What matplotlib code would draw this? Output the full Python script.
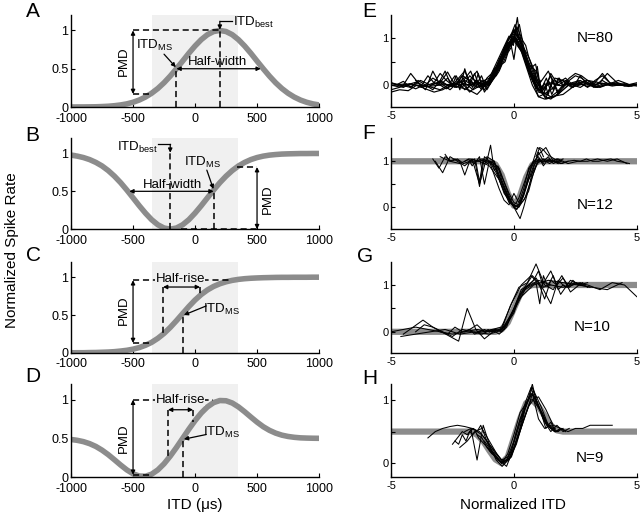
import numpy as np
import matplotlib
matplotlib.use("Agg")
import matplotlib.pyplot as plt

plt.rcParams["font.family"] = ["Liberation Sans", "DejaVu Sans"]
plt.rcParams["mathtext.fontset"] = "custom"
plt.rcParams["mathtext.rm"] = "Liberation Sans"
plt.rcParams["mathtext.it"] = "Liberation Sans:italic"

# ---- left column: model tuning curves, sampled every 50 us ----
itd = list(range(-1000, 1001, 50))
curve_a = [0.000, 0.001, 0.001, 0.002, 0.003, 0.006, 0.010, 0.017, 0.027, 0.041,
           0.062, 0.091, 0.130, 0.180, 0.242, 0.317, 0.404, 0.500, 0.600, 0.702,
           0.797, 0.880, 0.945, 0.986, 1.000, 0.986, 0.945, 0.880, 0.797, 0.702,
           0.600, 0.500, 0.404, 0.317, 0.242, 0.180, 0.130, 0.091, 0.062, 0.041,
           0.027]
curve_b = [0.978, 0.965, 0.946, 0.919, 0.882, 0.835, 0.774, 0.700, 0.614, 0.517,
           0.414, 0.310, 0.212, 0.125, 0.058, 0.015, 0.000, 0.015, 0.058, 0.125,
           0.212, 0.310, 0.414, 0.517, 0.614, 0.700, 0.774, 0.835, 0.882, 0.919,
           0.946, 0.965, 0.978, 0.986, 0.992, 0.995, 0.997, 0.999, 0.999, 1.000,
           1.000]
curve_c = [0.001, 0.002, 0.002, 0.004, 0.005, 0.008, 0.011, 0.016, 0.024, 0.034,
           0.049, 0.070, 0.100, 0.139, 0.192, 0.257, 0.336, 0.425, 0.519, 0.612,
           0.698, 0.771, 0.831, 0.878, 0.913, 0.939, 0.958, 0.971, 0.980, 0.986,
           0.990, 0.993, 0.995, 0.997, 0.998, 0.998, 0.999, 0.999, 0.999, 1.000,
           1.000]
curve_d = [0.486, 0.475, 0.458, 0.432, 0.396, 0.348, 0.290, 0.224, 0.156, 0.093,
           0.043, 0.014, 0.011, 0.038, 0.093, 0.172, 0.271, 0.382, 0.500, 0.618,
           0.729, 0.828, 0.907, 0.962, 0.989, 0.986, 0.957, 0.907, 0.844, 0.776,
           0.710, 0.651, 0.604, 0.568, 0.542, 0.525, 0.514, 0.507, 0.504, 0.502,
           0.501]

# ---- right column: templates every 0.25 normalized ITD ----
norm_itd = list(np.arange(-5, 5.001, 0.25))
template_f = [1.0] * 16 + [1.0, 0.93, 0.7, 0.3, 0.03, 0.25, 0.65, 0.92, 1.0] + [1.0] * 16
template_g = [0.0] * 18 + [0.05, 0.2, 0.5, 0.8, 0.95, 1.0] + [1.0] * 17
template_h = ([0.5] * 13 + [0.5, 0.45, 0.35, 0.2, 0.06, 0.0, 0.1, 0.4, 0.7, 0.95,
                            1.0, 0.9, 0.75, 0.6, 0.52] + [0.5] * 13)

# normalized responses of single neurons: (first ITD, ITD step, rates)
traces_e = [
    (-5, 0.25, [0.05, 0.0, -0.05, 0.02, 0.06, 0.0, -0.04, 0.03, 0.08, 0.0, -0.03, 0.05, 0.1, 0.02, -0.05, 0.04,
                0.05, 0.25, 0.55, 0.85, 1.05, 0.85, 0.45, 0.1, -0.1,
                -0.05, 0.05, 0.0, -0.02, 0.03, 0.0, 0.02, -0.03, 0.0, 0.04, 0.01, -0.02, 0.0, 0.03, 0.0, 0.02]),
    (-4.8, 0.3, [0.0, 0.08, -0.05, 0.1, 0.0, 0.15, 0.05, 0.28, 0.0, 0.2, 0.1, -0.05,
                 0.0, 0.2, 0.5, 0.8, 1.1, 0.75, 0.3, -0.05, -0.2,
                 -0.1, 0.05, 0.15, 0.0, -0.05, 0.05, 0.0, 0.1, 0.0, 0.05, -0.02, 0.0]),
    (-3, 0.2, [0.1, 0.3, 0.05, 0.2, -0.1, 0.35, 0.0, 0.25, -0.05, 0.1,
               0.0, 0.15, 0.35, 0.6, 0.85, 1.2, 1.0, 0.7, 0.35, 0.05, -0.25,
               -0.2, 0.1, -0.1, 0.15, 0.0, 0.05, -0.05, 0.1, 0.0, 0.05]),
    (-5, 0.5, [0.0, 0.02, 0.0, -0.03, 0.0, 0.02, 0.0, 0.05, 0.02, 0.5, 1.0, 0.55, -0.1, -0.25, -0.2,
               0.0, 0.1, 0.05, 0.0, 0.0, 0.02]),
    (-2.5, 0.15, [0.0, 0.2, 0.05, 0.15, -0.1, 0.1, 0.0, 0.25, -0.05, 0.05,
                  0.05, 0.2, 0.35, 0.55, 0.7, 0.95, 1.1, 1.3, 1.0, 0.8,
                  0.5, 0.3, 0.05, 0.4, -0.15, 0.05, -0.2, 0.1, 0.0, 0.15, -0.05, 0.1, 0.0, 0.05]),
    (-4, 0.25, [0.1, 0.0, 0.2, 0.05, 0.25, 0.1, 0.0, 0.15, 0.3, 0.0, 0.1, -0.05,
                0.1, 0.35, 0.65, 0.95, 1.15, 0.95, 0.55, 0.2, 0.0,
                -0.25, -0.3, -0.2, -0.05, 0.1, 0.2, 0.15, 0.05, -0.05, 0.0, 0.05, 0.0]),
    (-5, 1 / 3, [-0.1, -0.05, 0.0, -0.08, 0.0, -0.05, -0.1, 0.0, -0.05, 0.05, -0.1, 0.0,
                 0.1, 0.45, 0.8, 0.95, 0.7, 0.2, -0.15,
                 -0.2, 0.15, 0.1, -0.05, 0.0, 0.05, -0.05, 0.0, 0.02, 0.0, -0.03, 0.0]),
    (-1.5, 0.1, [0.0, 0.05, 0.1, 0.05, 0.15, 0.2, 0.25, 0.35, 0.4, 0.5,
                 0.55, 0.65, 0.75, 0.85, 0.95, 1.05, 1.0, 0.9, 0.8, 0.65,
                 0.5, 0.4, 0.25, 0.1, 0.0, -0.1, -0.15, -0.1, 0.0, 0.05, 0.0]),
    (-1.8, 0.12, [0.05, -0.05, 0.1, 0.0, -0.1, 0.05, 0.0, 0.1, 0.15, 0.2,
                  0.3, 0.45, 0.5, 0.7, 0.8, 1.0, 1.25, 1.1, 0.95, 0.85,
                  0.6, 0.45, 0.3, 0.1, -0.05, -0.2, -0.25, -0.1, 0.05, 0.1, 0.0]),
    (-5, 0.25, [0.0, -0.03, 0.0, 0.03, 0.0, -0.05, 0.0, 0.05, 0.0, -0.08, 0.0, 0.05, -0.1, 0.0, 0.05, 0.0,
                0.0, 0.3, 0.6, 0.9, 1.0, 0.8, 0.4, 0.0, -0.25,
                -0.3, -0.25, -0.15, 0.0, 0.15, 0.25, 0.2, 0.1, 0.0, -0.05, 0.0, 0.05, 0.1, 0.05, 0.0, -0.02]),
    (-3.6, 0.3, [0.0, -0.1, 0.1, 0.0, 0.05, -0.05, 0.2, 0.05, -0.1, 0.15,
                 0.45, 0.75, 1.0, 0.9, 0.6, 0.15, -0.1, 0.2, -0.15, 0.05,
                 0.0, 0.05, -0.05, 0.1, 0.2, 0.05, 0.0]),
    (-5, 0.4, [0.05, 0.0, -0.05, 0.1, 0.0, 0.05, -0.1, 0.1, -0.15, 0.05,
               0.15, 0.6, 1.05, 0.9, 0.4, 0.0, 0.3, -0.2, 0.0, 0.05,
               0.1, 0.0, 0.25, 0.05, 0.0, 0.05]),
    (-0.9, 0.08, [0.1, 0.15, 0.2, 0.3, 0.35, 0.45, 0.5, 0.6, 0.7, 0.8,
                  0.9, 0.85, 1.2, 1.45, 1.1, 0.95, 0.8, 0.6, 0.5, 0.35,
                  0.25, 0.15, 0.05, 0.0]),
    (-1.2, 0.15, [0.0, 0.05, 0.15, 0.3, 0.45, 0.6, 0.85, 0.95, 0.55, 1.1, 0.9, 0.6, 0.4, 0.15, 0.0, -0.1, 0.0]),
    (-4.5, 0.3, [0.0, 0.25, 0.05, -0.1, 0.3, 0.0, 0.15, -0.05, 0.2, 0.1,
                 0.3, -0.15, 0.1, 0.45, 0.9, 1.15, 0.9, 0.45, 0.3, -0.2,
                 0.25, 0.0, 0.1, -0.05, 0.2, 0.0, 0.05, 0.25, 0.05, 0.0, 0.0]),
    (-5, 0.35, [-0.15, -0.1, -0.12, 0.0, -0.08, -0.15, -0.1, 0.0, -0.05, -0.1, -0.2, 0.0,
                0.2, 0.55, 0.9, 1.0, 0.5, 0.05, -0.3, -0.25, -0.1,
                0.05, 0.1, 0.0, -0.05, 0.0, 0.05, 0.0, -0.02]),
    (-1.1, 0.1, [0.05, 0.1, 0.2, 0.3, 0.4, 0.55, 0.65, 0.8, 0.9, 1.0,
                 1.1, 1.15, 1.2, 1.05, 0.9, 0.75, 0.55, 0.4, 0.2, 0.05, -0.05, 0.0, 0.1]),
    (-2.2, 0.22, [-0.05, 0.15, 0.3, 0.0, 0.2, -0.1, 0.1, 0.35, 0.6, 0.85,
                  1.0, 1.3, 0.7, 0.35, 0.45, -0.1, 0.15, -0.2, 0.05, 0.1, 0.0]),
]
traces_f = [
    (-3.3, 0.25, [1.05, 0.85, 1.1, 1.0, 1.05, 0.95, 1.0, 1.0, 1.05, 1.0,
                  0.9, 0.6, 0.3, 0.05, 0.0, 0.2, 0.6, 0.95, 1.05, 1.0,
                  1.0, 0.95, 1.0, 1.02, 1.0, 1.05, 1.0, 1.0, 1.03, 1.05, 1.0, 0.98, 0.95]),
    (-3.2, 0.3, [1.0, 0.75, 1.1, 1.0, 0.9, 1.05, 0.5, 1.1, 1.0, 0.55,
                 0.15, -0.05, 0.3, 0.85, 1.15, 1.3, 1.0, 0.95, 1.0]),
    (-2.8, 0.2, [1.15, 1.0, 1.05, 1.0, 0.7, 1.0, 1.05, 0.45, 1.1, 1.0,
                 0.95, 0.8, 0.55, 0.3, 0.1, 0.05, 0.15, 0.35, 0.75, 1.05,
                 1.0, 1.1, 0.95, 1.0, 1.05]),
    (-2.0, 0.15, [1.0, 1.05, 0.9, 1.0, 0.55, 1.05, 1.0, 1.35, 0.8, 0.9,
                  0.6, 0.4, 0.2, 0.05, -0.1, -0.25, 0.0, 0.3, 0.65, 0.95,
                  1.2, 1.05, 1.0, 0.95, 1.0, 1.05, 1.0]),
    (-1.5, 0.1, [1.0, 1.0, 1.02, 1.0, 0.98, 1.0, 0.97, 0.95, 0.9, 0.85,
                 0.7, 0.55, 0.4, 0.25, 0.12, 0.05, 0.1, 0.2, 0.35, 0.5,
                 0.65, 0.8, 0.9, 0.98, 1.0, 1.02, 1.0, 0.98, 1.0, 1.02, 1.0]),
    (-1.2, 0.12, [1.0, 0.95, 1.0, 0.85, 0.75, 0.6, 0.45, 0.3, 0.2, 0.1,
                  0.0, -0.05, 0.05, 0.2, 0.45, 0.7, 0.9, 1.1, 1.3, 1.25, 1.1]),
    (-1.0, 0.2, [1.0, 0.7, 0.4, 0.15, 0.05, 0.3, 0.1, 0.4, 0.85, 1.0, 1.1, 0.9, 1.05, 1.0, 0.95]),
    (-3.0, 0.4, [1.1, 1.0, 0.95, 1.05, 1.0, 0.9, 0.6, 0.1, 0.0, 0.6,
                 1.0, 1.0, 1.05, 0.95, 1.0, 1.0, 1.05, 1.0, 1.05, 0.95]),
    (-1.8, 0.2, [1.0, 0.95, 1.1, 0.5, 1.0, 1.0, 0.6, 0.3, 0.15, 0.0, 0.05, 0.25, 0.6, 0.9, 1.05, 0.95]),
    (0.9, 0.15, [1.1, 1.3, 1.25, 1.15, 1.1, 1.05, 1.0, 1.0]),
]
traces_g = [
    (-5, 0.5, [0.0, 0.05, 0.1, 0.05, 0.0, -0.05, 0.0, 0.05, 0.0, 0.05, 0.45,
               0.95, 1.1, 1.0, 0.95, 1.05, 1.0, 0.9, 1.05, 1.0, 0.75]),
    (-4.5, 0.4, [-0.05, 0.1, 0.25, 0.1, 0.0, -0.1, 0.05, 0.0, -0.05, 0.05,
                 0.1, 0.6, 1.0, 1.2, 0.95, 1.3, 0.8, 1.1, 1.0, 0.95]),
    (-4.0, 0.35, [0.0, 0.15, 0.1, 0.0, -0.1, -0.2, 0.5, 0.05, -0.15, 0.0,
                  0.05, 0.55, 0.95, 1.05, 1.45, 1.0, 0.9, 1.2, 0.85, 1.0, 1.05]),
    (-3.0, 0.3, [0.0, -0.05, 0.1, 0.0, 0.05, 0.15, 0.0, 0.05, -0.05, 0.1,
                 0.5, 0.9, 1.0, 1.15, 0.9, 0.6, 1.1, 0.95, 1.0, 1.05, 0.95]),
    (-2.0, 0.2, [0.0, 0.05, -0.05, 0.0, 0.05, 0.0, 0.05, 0.02, 0.1, 0.3,
                 0.5, 0.75, 0.9, 1.0, 1.1, 1.3, 0.95, 1.0, 1.2, 0.9,
                 1.0, 0.95, 1.1, 1.0, 1.05]),
    (-1.5, 0.15, [0.0, 0.02, 0.0, 0.05, 0.0, 0.03, 0.05, 0.1, 0.15, 0.3,
                  0.45, 0.65, 0.8, 0.9, 0.95, 1.0, 1.05, 0.6, 1.2, 1.0, 1.0]),
    (-4.6, 0.6, [-0.1, -0.05, 0.0, 0.05, -0.05, 0.0, -0.05, 0.05, 0.7, 1.0, 1.1, 1.05, 1.0, 0.95, 0.9, 1.05]),
    (-1.0, 0.25, [0.0, 0.05, 0.0, 0.2, 0.4, 0.8, 1.0, 1.2, 1.05, 0.7, 1.1, 1.0, 1.15, 0.95, 1.05, 1.0]),
]
traces_h = [
    (-3.5, 0.3, [0.4, 0.5, 0.55, 0.58, 0.6, 0.58, 0.55, 0.5, 0.35, 0.2,
                 0.05, 0.05, 0.3, 0.7, 1.0, 1.05, 0.85, 0.6, 0.55, 0.5,
                 0.55, 0.55, 0.6, 0.6, 0.6, 0.6]),
    (-2.5, 0.2, [0.3, 0.4, 0.5, 0.45, 0.55, 0.5, 0.45, 0.35, 0.2, 0.1,
                 0.0, 0.05, 0.2, 0.45, 0.7, 0.95, 1.1, 1.0, 0.8, 0.65,
                 0.55, 0.5, 0.55, 0.5]),
    (-2.4, 0.15, [0.35, 0.3, 0.45, 0.35, 0.5, 0.55, 0.5, 0.6, 0.45, 0.3,
                  0.2, 0.1, 0.05, 0.0, -0.05, 0.1, 0.25, 0.4, 0.6, 0.85,
                  1.05, 1.25, 1.0, 0.85, 0.7, 0.6, 0.55, 0.5, 0.5, 0.55]),
    (-2.0, 0.25, [0.5, 0.55, 0.05, 0.6, 0.3, 0.15, 0.05, 0.1,
                  0.35, 0.7, 0.9, 1.2, 0.9, 0.65, 0.5, 0.6, 0.5, 0.55]),
    (-1.8, 0.12, [0.5, 0.45, 0.5, 0.4, 0.35, 0.3, 0.25, 0.2, 0.15, 0.05,
                  0.0, -0.05, 0.0, 0.05, 0.15, 0.25, 0.4, 0.55, 0.75, 0.9,
                  1.0, 1.1, 1.05, 0.95, 0.85, 0.75, 0.65, 0.6, 0.55, 0.5]),
    (-1.5, 0.2, [0.45, 0.4, 0.25, 0.15, 0.1, 0.0, 0.05, 0.2, 0.5, 0.75,
                 1.0, 1.2, 0.95, 0.8, 0.55, 0.65, 0.5, 0.55]),
    (-2.2, 0.3, [0.25, 0.35, 0.5, 0.55, 0.35, 0.15, 0.0, 0.1, 0.45, 0.8, 1.15, 0.9, 0.6]),
    (-1.2, 0.18, [0.35, 0.25, 0.15, 0.05, 0.02, 0.05, 0.1, 0.3, 0.5, 0.7, 0.9, 1.0, 0.9, 0.8, 0.65, 0.55, 0.55]),
    (-1.0, 0.25, [0.2, 0.1, 0.0, 0.15, 0.45, 0.8, 0.95, 1.1, 0.7, 0.55, 0.6, 0.5, 0.55]),
]

GRAY = "#8c8c8c"
SHADE = "#f0f0f0"

fig = plt.figure(figsize=(6.4, 5.22), dpi=100)

rows = [(0.795, 0.176), (0.561, 0.174), (0.324, 0.174), (0.086, 0.178)]
left_axes = [fig.add_axes([0.111, b, 0.3875, h]) for b, h in rows]
right_axes = [fig.add_axes([0.611, b, 0.384, h]) for b, h in rows]


def style(ax, size, xpad):
    for s in ["top", "right"]:
        ax.spines[s].set_visible(False)
    ax.spines["left"].set_linewidth(1.0)
    ax.spines["bottom"].set_linewidth(1.0)
    ax.tick_params(direction="in", length=3, width=0.8, labelsize=size, pad=2)
    ax.tick_params(axis="x", pad=xpad)


def dash(ax, xs, ys):
    ax.plot(xs, ys, color="k", lw=1.1, ls=(0, (4, 2.5)), zorder=3)


def arrow2(ax, p1, p2):
    ax.annotate("", xy=p2, xytext=p1,
                arrowprops=dict(arrowstyle="<|-|>", color="k", lw=0.9,
                                mutation_scale=6, shrinkA=0, shrinkB=0), zorder=4)


def arrow1(ax, p1, p2):
    ax.annotate("", xy=p2, xytext=p1,
                arrowprops=dict(arrowstyle="-|>", color="k", lw=0.9,
                                mutation_scale=6, shrinkA=0, shrinkB=0), zorder=4)


curves = [curve_a, curve_b, curve_c, curve_d]
for ax, c in zip(left_axes, curves):
    ax.axvspan(-345, 345, color=SHADE, zorder=0, lw=0)
    ax.plot(itd, c, color=GRAY, lw=4, zorder=2)
    ax.set_xlim(-1000, 1000)
    ax.set_ylim(0, 1.2)
    ax.set_xticks([-1000, -500, 0, 500, 1000])
    ax.set_xticklabels(["-1000", "-500", "0", "500", "1000"])
    ax.set_yticks([0, 0.5, 1])
    ax.set_yticklabels(["0", "0.5", "1"])
    style(ax, 9, 4)

fs = 9.5
ITD_MS = r"ITD$_{\mathrm{MS}}$"
ITD_BEST = r"ITD$_{\mathrm{best}}$"

# A
ax = left_axes[0]
dash(ax, [-500, 200], [1.0, 1.0])
dash(ax, [-500, -370], [0.17, 0.17])
arrow2(ax, (-500, 0.17), (-500, 1.0))
ax.text(-575, 0.6, "PMD", rotation=90, ha="center", va="center", fontsize=fs)
dash(ax, [-150, -150], [0, 0.5])
dash(ax, [200, 200], [0, 1.0])
ax.plot([300, 200], [1.12, 1.12], color="k", lw=0.9)
arrow1(ax, (200, 1.12), (200, 1.01))
ax.text(310, 1.1, ITD_BEST, ha="left", va="center", fontsize=fs)
arrow2(ax, (-150, 0.5), (530, 0.5))
ax.text(180, 0.59, "Half-width", ha="center", va="center", fontsize=fs)
ax.text(-330, 0.8, ITD_MS, ha="center", va="center", fontsize=fs)
arrow1(ax, (-250, 0.69), (-155, 0.52))

# B
ax = left_axes[1]
dash(ax, [-200, -200], [0, 1.0])
ax.plot([-300, -200], [1.12, 1.12], color="k", lw=0.9)
arrow1(ax, (-200, 1.12), (-200, 1.01))
ax.text(-460, 1.08, ITD_BEST, ha="center", va="center", fontsize=fs)
arrow2(ax, (-530, 0.5), (150, 0.5))
ax.text(-180, 0.59, "Half-width", ha="center", va="center", fontsize=fs)
dash(ax, [150, 150], [0, 0.5])
ax.text(60, 0.88, ITD_MS, ha="center", va="center", fontsize=fs)
arrow1(ax, (95, 0.78), (148, 0.53))
dash(ax, [340, 500], [0.82, 0.82])
dash(ax, [-110, 500], [0.0, 0.0])
arrow2(ax, (500, 0.0), (500, 0.82))
ax.text(590, 0.4, "PMD", rotation=90, ha="center", va="center", fontsize=fs)

# C
ax = left_axes[2]
dash(ax, [-500, 290], [0.96, 0.96])
dash(ax, [-500, -350], [0.13, 0.13])
arrow2(ax, (-500, 0.13), (-500, 0.96))
ax.text(-575, 0.57, "PMD", rotation=90, ha="center", va="center", fontsize=fs)
ax.text(-120, 0.98, "Half-rise", ha="center", va="center", fontsize=fs,
        bbox=dict(facecolor=SHADE, edgecolor="none", pad=0.3))
arrow2(ax, (-258, 0.87), (40, 0.87))
dash(ax, [-258, -258], [0.87, 0.25])
dash(ax, [40, 40], [0.87, 0.75])
dash(ax, [-100, -100], [0, 0.5])
ax.text(215, 0.58, ITD_MS, ha="center", va="center", fontsize=fs)
arrow1(ax, (90, 0.62), (-90, 0.5))

# D
ax = left_axes[3]
dash(ax, [-500, 145], [1.0, 1.0])
dash(ax, [-500, -350], [0.03, 0.03])
arrow2(ax, (-500, 0.03), (-500, 1.0))
ax.text(-575, 0.5, "PMD", rotation=90, ha="center", va="center", fontsize=fs)
ax.text(-120, 1.0, "Half-rise", ha="center", va="center", fontsize=fs,
        bbox=dict(facecolor=SHADE, edgecolor="none", pad=0.3))
arrow2(ax, (-218, 0.87), (-16, 0.87))
dash(ax, [-218, -218], [0.87, 0.25])
dash(ax, [-16, -16], [0.87, 0.71])
dash(ax, [-97, -97], [0, 0.5])
ax.text(215, 0.58, ITD_MS, ha="center", va="center", fontsize=fs)
arrow1(ax, (90, 0.55), (-90, 0.49))

# right column
templates = [None, template_f, template_g, template_h]
trace_sets = [traces_e, traces_f, traces_g, traces_h]
ylims = [(-0.47, 1.5), (-0.48, 1.5), (-0.45, 1.49), (-0.22, 1.25)]
counts = ["N=80", "N=12", "N=10", "N=9"]
count_pos = [(3.3, 1.0), (3.3, 0.05), (3.2, 0.1), (3.1, 0.08)]
widths = [0.85, 0.75, 0.75, 0.75]
for ax, tpl, tr, yl, n, pos, w in zip(right_axes, templates, trace_sets, ylims, counts, count_pos, widths):
    if tpl is not None:
        ax.plot(norm_itd, tpl, color=GRAY, lw=4.5, zorder=1)
    for x0, dx, ys in tr:
        xs = x0 + dx * np.arange(len(ys))
        ax.plot(xs, ys, color="k", lw=w, zorder=2)
    ax.set_xlim(-5, 5)
    ax.set_ylim(*yl)
    ax.set_xticks([-5, 0, 5])
    ax.set_xticklabels(["-5", "0", "5"])
    ax.set_yticks([0, 0.5, 1])
    ax.set_yticklabels(["0", "", "1"])
    style(ax, 8, 3)
    ax.text(pos[0], pos[1], n, ha="center", va="center", fontsize=11)

# panel letters and axis labels
for lab, x, y in [("A", 0.04, 0.996), ("B", 0.04, 0.759), ("C", 0.04, 0.529), ("D", 0.04, 0.297),
                  ("E", 0.566, 0.996), ("F", 0.566, 0.762), ("G", 0.558, 0.527), ("H", 0.566, 0.293)]:
    fig.text(x, y, lab, fontsize=15, ha="left", va="top")

fig.text(0.018, 0.52, "Normalized Spike Rate", rotation=90, ha="center", va="center", fontsize=11)
fig.text(0.305, 0.032, "ITD (\u03bcs)", ha="center", va="center", fontsize=11)
fig.text(0.802, 0.032, "Normalized ITD", ha="center", va="center", fontsize=11)

fig.savefig("out.png", dpi=100)
